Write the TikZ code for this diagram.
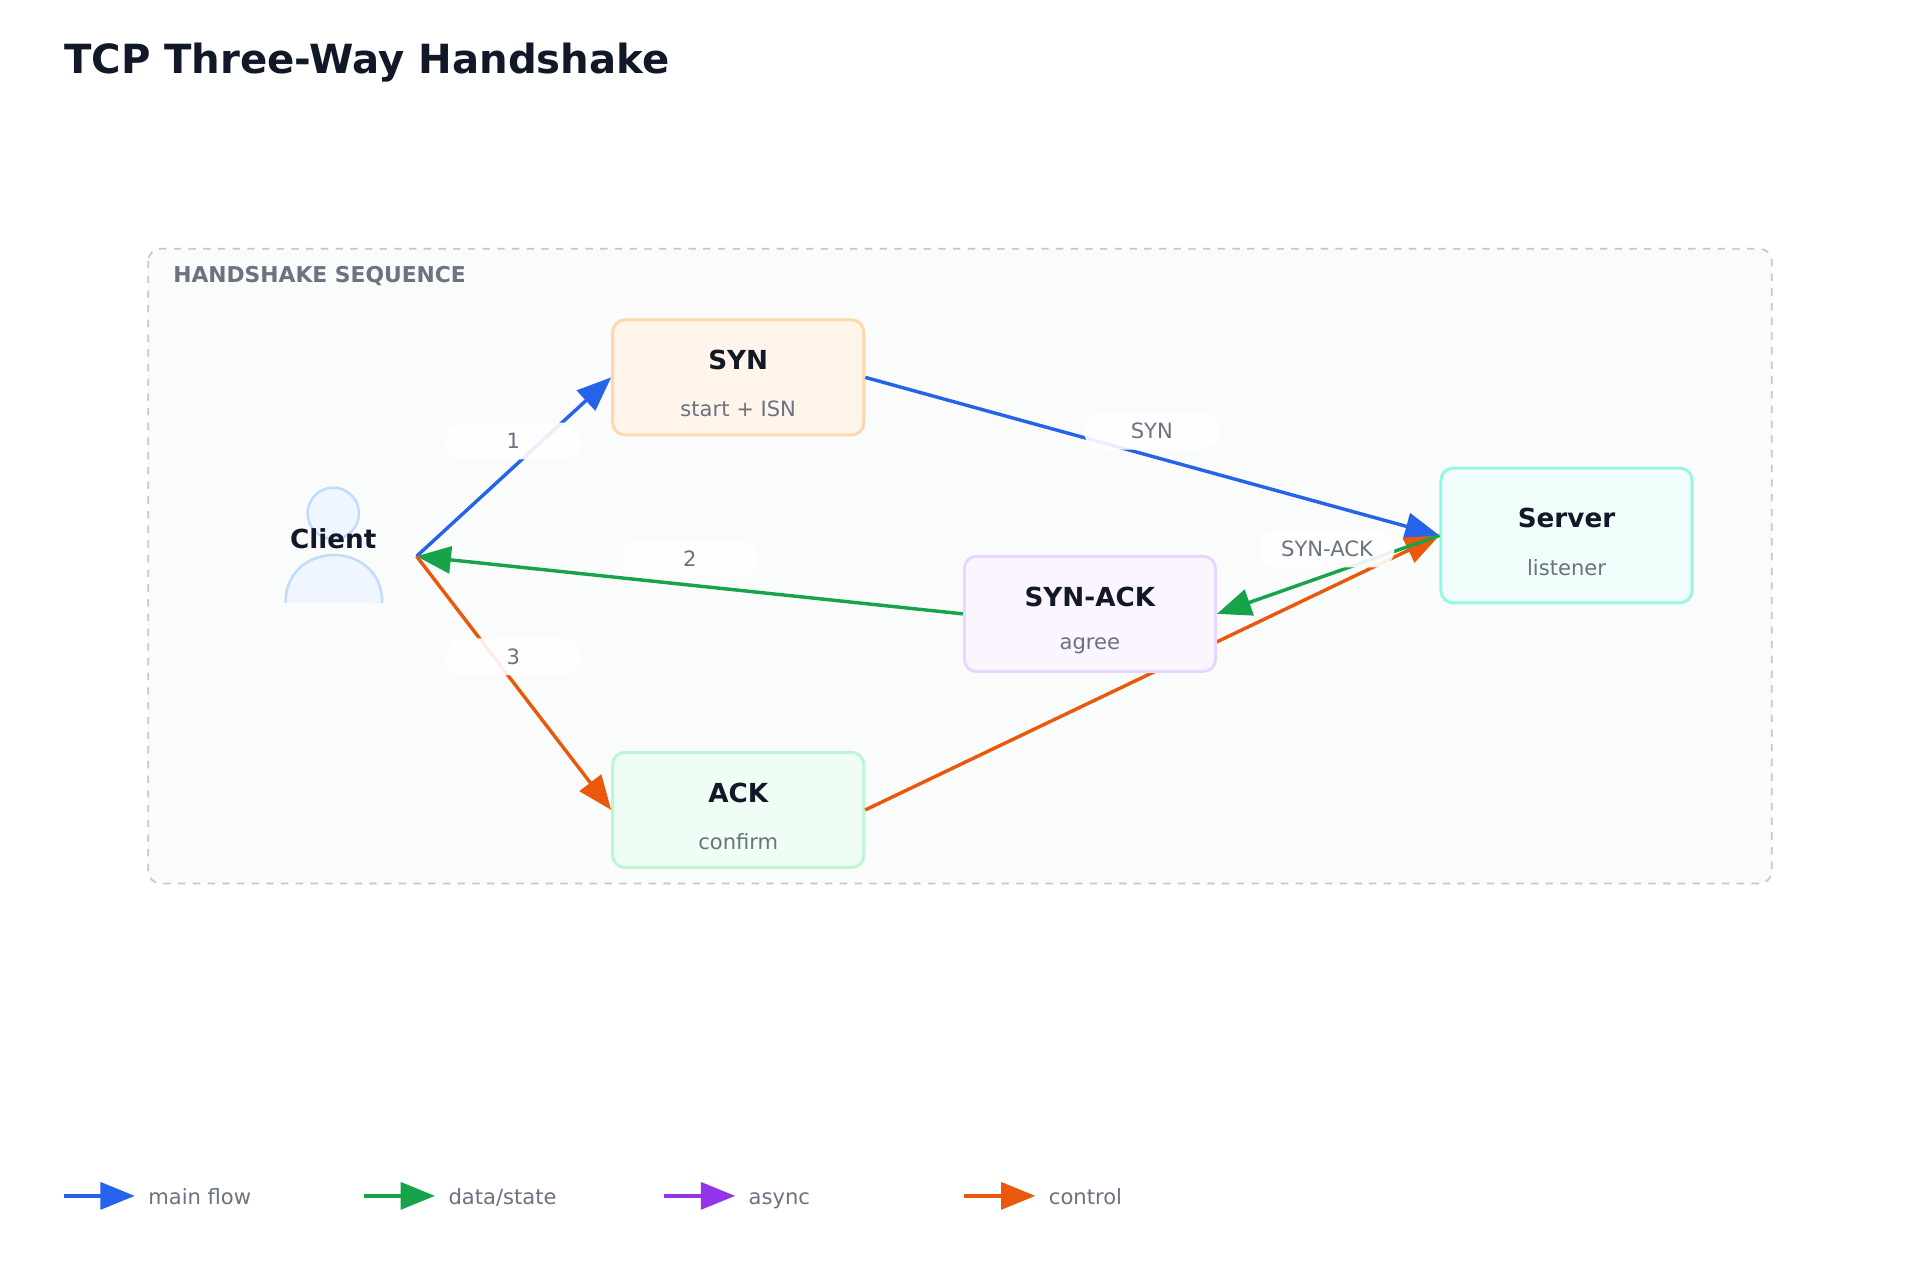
\documentclass[tikz,border=0pt]{standalone}
\usepackage{fontspec}
\setmainfont{DejaVu Sans}
\usetikzlibrary{arrows.meta}
\definecolor{cblue}{HTML}{2563EB}
\definecolor{cgreen}{HTML}{16A34A}
\definecolor{cpurple}{HTML}{9333EA}
\definecolor{corange}{HTML}{EA580C}
\definecolor{ctext}{HTML}{111827}
\definecolor{csub}{HTML}{6B7280}
\tikzset{
  box/.style={draw, line width=1.2pt, rounded corners=5pt, minimum width=102.5pt, minimum height=47pt, inner sep=0pt},
  ttl/.style={font=\bfseries\fontsize{10.7}{12}\selectfont, text=ctext},
  sub/.style={font=\fontsize{8.6}{10}\selectfont, text=csub},
  edge/.style={line width=1.4pt, -{Triangle[length=14pt,width=11pt]}},
  pill/.style={fill=white, fill opacity=0.9, text opacity=1, rounded corners=7pt, minimum width=55pt, minimum height=15pt, font=\fontsize{8.6}{10}\selectfont, text=csub},
  legtxt/.style={anchor=base west, font=\fontsize{8.6}{10}\selectfont, text=csub}
}
\begin{document}
\begin{tikzpicture}[x=0.5pt,y=-0.5pt]
\useasboundingbox (0,0) rectangle (1567,1045);
\fill[white] (0,0) rectangle (1567,1045);
\node[anchor=west, font=\bfseries\fontsize{16.4}{19}\selectfont, text=ctext, inner sep=0pt] (title) at (52,51) {TCP Three-Way Handshake};
% container
\draw[draw=gray!45, dashed, line width=0.7pt, fill={rgb,255:red,250;green,252;blue,251}, rounded corners=5pt] (121,203) rectangle (1446,721);
\node[anchor=west, font=\bfseries\fontsize{8.9}{10}\selectfont, text=csub, inner sep=0pt] (hdr) at (141,225) {HANDSHAKE SEQUENCE};
% client icon
\draw[draw={rgb,255:red,191;green,219;blue,254}, fill={rgb,255:red,239;green,246;blue,255}, line width=1pt] (272,419) circle (21);
\draw[draw={rgb,255:red,191;green,219;blue,254}, fill={rgb,255:red,239;green,246;blue,255}, line width=1pt] (233,492) .. controls (233,440) and (312,440) .. (312,492);
\node[font=\bfseries\fontsize{10.7}{12}\selectfont, text=ctext] (clientlbl) at (272,440) {Client};
\coordinate (client) at (340,454);
% node boxes
\node[box, draw={rgb,255:red,254;green,215;blue,170}, fill={rgb,255:red,255;green,245;blue,235}] (syn) at (602.5,308) {};
\node[box, draw={rgb,255:red,153;green,246;blue,228}, fill={rgb,255:red,240;green,253;blue,250}, minimum height=55pt] (server) at (1278.5,437) {};
\node[box, draw={rgb,255:red,187;green,247;blue,208}, fill={rgb,255:red,240;green,253;blue,244}] (ack) at (602.5,661) {};
% edges
\draw[edge, cblue] (syn.east) -- (server.west);
\draw[edge, corange] (ack.east) -- (server.west);
\node[box, draw={rgb,255:red,233;green,213;blue,255}, fill={rgb,255:red,250;green,245;blue,255}] (synack) at (889.5,501) {};
\draw[edge, cblue] (client) -- (syn.west);
\draw[edge, cgreen] (synack.west) -- (client);
\draw[edge, corange] (client) -- (ack.west);
\draw[edge, cgreen] (server.west) -- (synack.east);
% labels
\node[pill] (l1) at (419,360) {1};
\node[pill] (l2) at (563,456) {2};
\node[pill] (l3) at (419,536) {3};
\node[pill] (lsyn) at (940,352) {SYN};
\node[pill] (lsynack) at (1083,448) {SYN-ACK};
% texts
\node[ttl] (t1) at (602.5,294) {SYN};
\node[sub] (s1) at (602.5,334) {start + ISN};
\node[ttl] (t2) at (1278.5,423) {Server};
\node[sub] (s2) at (1278.5,463) {listener};
\node[ttl] (t3) at (889.5,487) {SYN-ACK};
\node[sub] (s3) at (889.5,527) {agree};
\node[ttl] (t4) at (602.5,647) {ACK};
\node[sub] (s4) at (602.5,687) {confirm};
% legend
\foreach \x/\c/\t/\n in {52/cblue/main flow/a, 297/cgreen/data\slash state/b, 542/cpurple/async/c, 787/corange/control/d}{
  \coordinate (ls\n) at (\x,976);
  \coordinate (le\n) at (\x+58,976);
  \draw[edge, \c] (ls\n) -- (le\n);
  \node[legtxt] (lt\n) at (\x+62,983) {\t};
}
\end{tikzpicture}
\end{document}
